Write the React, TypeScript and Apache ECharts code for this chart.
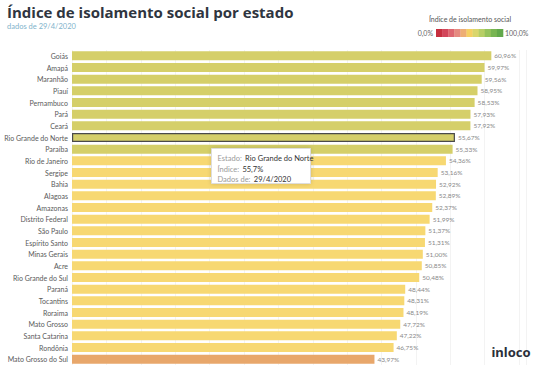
import React, { useEffect, useRef } from "react";
import * as echarts from "echarts";

const states = [
  "Goiás", "Amapá", "Maranhão", "Piauí", "Pernambuco", "Pará", "Ceará",
  "Rio Grande do Norte", "Paraíba", "Rio de Janeiro", "Sergipe", "Bahia",
  "Alagoas", "Amazonas", "Distrito Federal", "São Paulo", "Espírito Santo",
  "Minas Gerais", "Acre", "Rio Grande do Sul", "Paraná", "Tocantins",
  "Roraima", "Mato Grosso", "Santa Catarina", "Rondônia", "Mato Grosso do Sul",
];
const values = [
  60.96, 59.97, 59.56, 58.95, 58.53, 57.93, 57.92, 55.67, 55.33, 54.36,
  53.16, 52.92, 52.89, 52.37, 51.99, 51.37, 51.31, 51.0, 50.85, 50.48,
  48.44, 48.31, 48.19, 47.72, 47.22, 46.75, 43.97,
];
const highlighted = "Rio Grande do Norte";
const legendColors = [
  "#c62f3f", "#d2465a", "#dd6670", "#e58a80", "#eeae74", "#f5d063",
  "#d9d66c", "#b7cf66", "#95c35c", "#78b552", "#62a84b",
];

const fmt = (v: number, d = 2) => v.toFixed(d).replace(".", ",") + "%";
const colorFor = (v: number) => (v >= 55 ? "#d5cf69" : v >= 45 ? "#f7d872" : "#e8a76b");

export default function App() {
  const ref = useRef<HTMLDivElement>(null);
  useEffect(() => {
    const chart = echarts.init(ref.current!, undefined, { renderer: "svg" });
    const font = "Lato, 'Open Sans', sans-serif";
    const legendX = 436;
    const legendW = 67;
    const sw = legendW / legendColors.length;
    chart.setOption({
      animation: false,
      backgroundColor: "#ffffff",
      textStyle: { fontFamily: font },
      grid: { left: 72, right: 16, top: 50, bottom: 8 },
      xAxis: {
        type: "value",
        min: 0,
        max: 66,
        interval: 5,
        axisLabel: { show: false },
        axisLine: { show: false },
        axisTick: { show: false },
        splitLine: { show: true, lineStyle: { color: "#f3f3f3", width: 1 } },
      },
      yAxis: {
        type: "category",
        inverse: true,
        data: states,
        axisLine: { show: false },
        axisTick: { show: false },
        axisLabel: { fontSize: 7, color: "#5a5a5a", margin: 4, fontFamily: font },
      },
      series: [
        {
          type: "bar",
          barWidth: 9,
          data: values.map((v, i) => ({
            value: v,
            itemStyle: {
              color: colorFor(v),
              borderColor: states[i] === highlighted ? "#4a4a4a" : undefined,
              borderWidth: states[i] === highlighted ? 1.2 : 0,
            },
          })),
          label: {
            show: true,
            position: "right",
            distance: 3,
            fontSize: 6.5,
            color: "#888",
            fontFamily: font,
            formatter: (p: any) => fmt(p.value),
          },
        },
      ],
      graphic: [
        {
          type: "text",
          left: 7,
          top: 4,
          z: 100,
          style: {
            text: "Índice de isolamento social por estado",
            font: "bold 15px 'Open Sans', Lato, sans-serif",
            fill: "#2f3540",
          },
        },
        {
          type: "text",
          left: 7,
          top: 22,
          z: 100,
          style: { text: "dados de 29/4/2020", font: "7.5px " + font, fill: "#7fb3cb" },
        },
        {
          type: "text",
          x: 470,
          y: 19,
          z: 100,
          style: {
            text: "Índice de isolamento social",
            font: "7px " + font,
            fill: "#555",
            align: "center",
            verticalAlign: "middle",
          },
        },
        {
          type: "text",
          x: 433,
          y: 33,
          z: 100,
          style: { text: "0,0%", font: "7px " + font, fill: "#666", align: "right", verticalAlign: "middle" },
        },
        {
          type: "text",
          x: 505,
          y: 33,
          z: 100,
          style: { text: "100,0%", font: "7px " + font, fill: "#666", align: "left", verticalAlign: "middle" },
        },
        ...legendColors.map((c, i) => ({
          type: "rect",
          z: 100,
          shape: { x: legendX + i * sw, y: 29, width: sw + 0.3, height: 8 },
          style: { fill: c },
        })),
        {
          type: "group",
          left: 211,
          top: 148,
          z: 200,
          children: [
            {
              type: "rect",
              z: 200,
              shape: { x: 0, y: 0, width: 99, height: 35 },
              style: {
                fill: "#ffffff",
                stroke: "#dddddd",
                lineWidth: 1,
                shadowBlur: 4,
                shadowColor: "rgba(0,0,0,0.15)",
              },
            },
            {
              type: "text",
              z: 201,
              x: 6,
              y: 5,
              style: {
                text: "{l|Estado:} {v|Rio Grande do Norte}\n{l|Índice:} {v|55,7%}\n{l|Dados de:} {v|29/4/2020}",
                lineHeight: 10.5,
                rich: {
                  l: { fill: "#9a9a9a", fontSize: 7.5, fontFamily: font, lineHeight: 10.5 },
                  v: { fill: "#333", fontSize: 7.5, fontFamily: font, lineHeight: 10.5 },
                },
              },
            },
          ],
        },
        {
          type: "text",
          x: 511,
          y: 352,
          z: 100,
          style: {
            text: "inloco",
            font: "bold 13px 'Noto Sans', sans-serif",
            fill: "#2a2f3a",
            align: "center",
            verticalAlign: "middle",
          },
        },
      ],
    });
    return () => chart.dispose();
  }, []);
  return (
    <div
      ref={ref}
      style={{ position: "fixed", left: 0, top: 0, width: 542, height: 373 }}
    />
  );
}
